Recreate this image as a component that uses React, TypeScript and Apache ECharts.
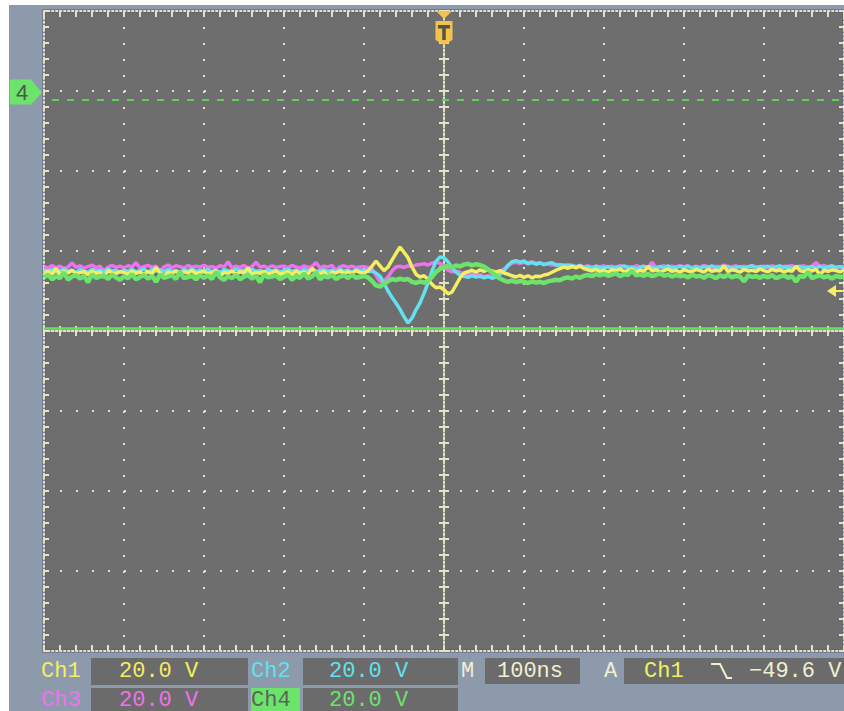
import React, { useEffect, useRef } from "react";
import * as echarts from "echarts";

// Acquisition record: one sample every 5 ns, -500 ns … +500 ns around the trigger
const SAMPLE_START_NS = -500;
const SAMPLE_STEP_NS = 5;

// Channel voltages (V, relative to each channel's ground), 201 samples each
const CH1_V = [
  -45.2, -44.6, -45.4, -43.9, -45.6, -44.7, -45.1, -44.4, -45.3, -45.0, -44.8, -45.5, -44.6, -45.2, -44.9, -46.2, -44.5, -45.1, -45.3, -44.7,
  -45.0, -45.4, -44.6, -45.2, -44.8, -45.5, -44.7, -45.3, -43.7, -45.1, -46.1, -44.9, -45.2, -44.6, -45.4, -44.8, -45.1, -44.5, -45.3, -45.0,
  -44.7, -45.3, -45.0, -44.5, -46.0, -44.9, -45.2, -44.6, -45.4, -44.8, -45.1, -43.8, -45.5, -44.9, -45.2, -44.7, -45.3, -45.0, -44.6, -45.4,
  -45.1, -44.8, -45.5, -44.6, -45.2, -44.9, -45.4, -43.9, -45.0, -45.3, -44.7, -46.0, -44.9, -45.1, -44.6, -45.3, -44.8, -45.2, -44.5, -45.0,
  -45.1, -44.6, -43.4, -42.1, -43.3, -44.5, -43.6, -41.9, -40.2, -38.6, -39.9, -41.3, -43.6, -45.4, -46.1, -45.8, -46.6, -47.9, -48.8, -48.6,
  -49.3, -50.3, -49.9, -48.1, -46.3, -45.1, -44.8, -44.4, -44.9, -44.3, -44.7, -44.2, -44.6, -44.9, -44.5, -45.1, -45.4, -45.8, -46.1, -45.7,
  -46.2, -45.8, -46.3, -45.9, -46.0, -45.6, -45.4, -44.9, -44.4, -44.0, -43.6, -43.9, -43.5, -43.8, -43.4, -44.0, -44.3, -44.6, -44.2, -44.7,
  -44.4, -44.9, -44.3, -44.6, -44.1, -44.8, -44.5, -44.2, -44.9, -44.4, -44.7, -43.4, -44.6, -44.3, -44.8, -44.5, -44.1, -44.7, -44.4, -44.9,
  -44.3, -44.6, -44.8, -44.2, -44.5, -44.9, -44.1, -44.7, -44.4, -44.6, -43.3, -44.8, -44.3, -44.5, -44.9, -44.2, -44.6, -44.4, -44.7, -44.1,
  -44.5, -44.8, -44.2, -44.6, -44.3, -44.9, -44.4, -44.7, -43.4, -44.5, -44.8, -44.3, -44.6, -44.2, -45.5, -44.4, -44.7, -44.3, -44.5, -44.8,
  -44.4,
];

const CH2_V = [
  -44.3, -44.8, -44.2, -44.9, -44.5, -44.1, -44.7, -44.4, -45.0, -44.3, -44.6, -44.9, -44.2, -44.7, -44.4, -44.8, -44.1, -44.6, -44.5, -44.9,
  -44.4, -44.7, -44.2, -44.8, -44.5, -44.1, -44.9, -44.3, -44.6, -44.4, -44.8, -44.2, -44.7, -44.5, -44.9, -44.3, -44.6, -44.1, -44.7, -44.4,
  -44.6, -44.2, -44.8, -44.4, -44.9, -44.3, -44.5, -44.7, -44.1, -44.6, -44.4, -44.8, -44.2, -44.7, -44.5, -44.9, -44.3, -44.6, -44.4, -44.8,
  -44.5, -44.2, -44.7, -44.4, -44.9, -44.3, -44.6, -44.1, -44.8, -44.5, -44.3, -44.7, -44.4, -44.9, -44.2, -44.6, -44.5, -44.8, -44.3, -44.6,
  -44.4, -44.7, -44.6, -45.1, -45.9, -47.6, -49.6, -51.2, -52.6, -54.2, -56.0, -57.6, -56.4, -54.3, -52.6, -50.2, -47.6, -44.6, -42.2, -41.1,
  -41.3, -42.3, -43.8, -44.9, -45.6, -45.9, -46.2, -45.8, -46.1, -45.9, -46.3, -46.0, -46.4, -46.1, -45.4, -44.6, -43.1, -42.3, -42.0, -42.4,
  -42.1, -42.8, -42.5, -42.9, -42.6, -43.0, -42.7, -42.5, -43.2, -43.0, -43.4, -43.1, -43.3, -43.6, -43.2, -43.8, -43.5, -43.9, -43.4, -43.7,
  -43.9, -43.5, -44.0, -43.6, -43.8, -43.3, -43.9, -43.6, -44.1, -43.7, -43.4, -43.9, -43.6, -44.0, -43.5, -43.8, -43.3, -43.9, -43.7, -43.5,
  -43.8, -43.4, -43.9, -43.6, -44.0, -43.5, -43.7, -43.3, -43.9, -43.6, -43.8, -43.4, -44.0, -43.7, -43.5, -43.9, -43.6, -43.3, -43.8, -43.5,
  -43.7, -43.4, -43.9, -43.6, -43.3, -43.8, -43.5, -44.0, -43.6, -43.4, -43.9, -43.7, -43.5, -43.8, -43.4, -43.9, -43.6, -43.3, -43.7, -43.5,
  -43.8,
];

const CH3_V = [
  -43.5, -43.9, -43.2, -43.8, -43.4, -44.0, -43.6, -42.6, -43.7, -43.3, -43.9, -43.5, -43.1, -43.8, -43.4, -44.6, -43.6, -43.2, -43.7, -43.4,
  -43.8, -43.3, -43.6, -42.5, -43.9, -43.5, -43.2, -43.7, -43.4, -44.6, -43.6, -43.1, -43.8, -43.3, -43.5, -43.9, -43.2, -43.7, -43.4, -43.6,
  -43.2, -43.7, -43.5, -43.9, -43.3, -43.6, -42.3, -43.8, -43.4, -43.7, -43.2, -43.9, -43.5, -42.4, -43.6, -43.4, -43.8, -43.3, -43.7, -43.5,
  -43.4, -43.8, -43.2, -43.6, -43.9, -43.3, -43.7, -43.5, -42.5, -43.8, -43.4, -43.6, -43.2, -44.5, -43.5, -43.3, -43.7, -43.4, -43.8, -43.6,
  -43.5, -43.8, -44.1, -45.6, -47.3, -47.1, -46.1, -44.6, -43.6, -43.4, -43.7, -43.3, -43.5, -43.1, -43.0, -42.8, -43.1, -42.6, -42.4, -42.7,
  -43.3, -44.4, -44.8, -44.6, -44.9, -45.4, -45.6, -45.3, -45.7, -45.5, -46.0, -45.8, -46.1, -45.2, -44.8, -44.1, -43.4, -42.6, -42.4, -42.7,
  -42.4, -42.6, -42.3, -42.7, -42.5, -43.0, -42.8, -43.1, -42.9, -43.2, -43.0, -43.4, -43.1, -43.5, -43.2, -43.6, -43.3, -43.7, -43.4, -43.6,
  -43.3, -43.7, -43.4, -43.8, -43.2, -43.6, -43.5, -43.9, -43.3, -43.6, -43.4, -43.8, -42.4, -43.7, -43.5, -43.3, -43.8, -43.4, -43.6, -43.2,
  -43.6, -43.3, -43.8, -43.4, -43.7, -43.2, -43.5, -44.5, -43.4, -43.6, -43.1, -43.7, -43.5, -43.3, -43.8, -43.4, -43.6, -43.2, -43.7, -43.5,
  -43.4, -43.7, -43.3, -43.6, -44.6, -43.4, -43.5, -43.2, -43.8, -43.6, -43.3, -43.7, -43.4, -42.5, -43.5, -43.2, -43.6, -43.4, -43.8, -43.5,
  -43.6,
];

const CH4_V = [
  -46.2, -45.5, -46.7, -45.9, -46.4, -44.9, -46.8, -46.0, -45.6, -46.5, -45.8, -47.4, -45.4, -46.3, -46.0, -45.7, -46.6, -45.5, -46.2, -46.8,
  -45.9, -46.4, -45.4, -46.7, -46.1, -45.6, -46.5, -45.8, -47.3, -45.5, -46.3, -46.0, -45.7, -46.6, -44.8, -46.4, -46.1, -45.8, -46.7, -45.6,
  -46.3, -45.7, -46.6, -44.8, -46.2, -46.8, -45.9, -46.4, -45.5, -46.7, -46.0, -45.6, -46.5, -45.8, -47.4, -45.4, -46.2, -46.0, -45.7, -46.6,
  -46.1, -45.5, -46.8, -45.9, -46.3, -45.2, -46.5, -46.0, -44.9, -46.7, -45.8, -46.2, -45.6, -46.6, -46.0, -45.7, -46.4, -45.5, -46.3, -46.1,
  -45.8, -46.2, -47.1, -48.2, -48.5, -47.8, -47.2, -46.6, -46.9, -46.5, -46.8, -46.6, -47.3, -47.6, -47.2, -47.5, -47.1, -46.1, -44.8, -44.1,
  -43.6, -43.3, -43.7, -43.2, -43.5, -43.0, -42.8, -43.2, -42.9, -43.1, -43.5, -44.2, -45.0, -45.8, -46.5, -47.0, -47.3, -47.0, -47.4, -47.1,
  -47.3, -47.6, -47.2, -47.5, -47.3, -47.6, -47.2, -47.0, -46.8, -46.9, -46.4, -46.2, -46.5, -46.0, -46.3, -45.8, -45.6, -45.9, -45.4, -45.7,
  -45.3, -45.8, -45.5, -45.2, -45.9, -45.4, -45.6, -44.5, -45.7, -45.5, -45.8, -45.3, -45.9, -45.6, -45.2, -45.8, -45.5, -46.0, -45.6, -45.9,
  -45.7, -46.2, -45.5, -46.0, -45.8, -46.3, -45.6, -45.9, -46.4, -45.7, -46.1, -45.5, -46.2, -45.8, -46.0, -47.2, -45.7, -46.1, -45.9, -46.3,
  -45.8, -46.2, -45.6, -46.4, -46.0, -45.7, -46.3, -45.9, -47.3, -45.8, -46.1, -44.8, -46.4, -46.0, -45.7, -46.2, -45.9, -46.5, -45.8, -46.1,
  -46.0,
];

// Front-panel settings
const CHANNEL_NAMES = ["Ch1", "Ch2", "Ch3", "Ch4"];
const CHANNEL_SCALE_LABELS = ["20.0 V", "20.0 V", "20.0 V", "20.0 V"];
const VOLTS_PER_DIV = 20;
const NS_PER_DIV = 100;
const TIMEBASE_LABEL = "100ns";
const H_DIVS = 10;
const V_DIVS = 8;
const GROUND_DIV = 2.98; // ground reference, divisions above screen centre
const TRIGGER_SOURCE = "Ch1";
const TRIGGER_LEVEL_V = -49.6;
const TRIGGER_TIME_NS = 0;
const CH4_CURSOR_V = -1.85;
const CH4_REF_V = -58.85;

const COLORS = ["#f3ee62", "#62e2ee", "#ee72ee", "#6ce46c"];
const TRACE_WIDTHS = [3.5, 3.5, 3.5, 4.5];
const CREAM = "#e4e2c0";
const TEXT_CREAM = "#f1efd2";
const PLOT_BG = "#6e6e6e";
const BOX_BG = "#6b6b6b";
const FONT = '22px "Liberation Mono", "DejaVu Sans Mono", monospace';

const GROUND_OFFSET = GROUND_DIV * VOLTS_PER_DIV;
const X_HALF = (H_DIVS / 2) * NS_PER_DIV;
const Y_HALF = (V_DIVS / 2) * VOLTS_PER_DIV;

const toPoints = (volts: number[]) =>
  volts.map((v, i) => [SAMPLE_START_NS + i * SAMPLE_STEP_NS, v + GROUND_OFFSET]);

const tick = (len: number) => ({ show: true, inside: true, length: len, lineStyle: { color: CREAM, width: 2 } });
const minor = (len: number) => ({ show: true, splitNumber: 5, length: len, lineStyle: { color: CREAM, width: 2 } });
const dotted = { color: CREAM, width: 2, type: [1.5, 2.5] as number[] };

function axis(kind: "x" | "y", position: string, onZero: boolean, showGrid: boolean, tickLen: number) {
  const half = kind === "x" ? X_HALF : Y_HALF;
  const step = kind === "x" ? NS_PER_DIV : VOLTS_PER_DIV;
  return {
    type: "value",
    min: -half,
    max: half,
    interval: step,
    position,
    axisLabel: { show: false },
    axisLine: onZero
      ? { show: true, onZero: true, onZeroAxisIndex: 0, lineStyle: dotted }
      : { show: true, onZero: false, lineStyle: dotted },
    axisTick: tick(tickLen),
    minorTick: minor(tickLen),
    splitLine: showGrid
      ? { show: true, lineStyle: { color: CREAM, width: 2, type: [2, 14] } }
      : { show: false },
    minorSplitLine: { show: false },
  };
}

function txt(text: string, x: number, y: number, fill: string, extra: any = {}) {
  return {
    type: "text",
    x,
    y,
    z: 50,
    silent: true,
    style: {
      text,
      fill,
      font: FONT,
      textAlign: "left",
      textVerticalAlign: "middle",
      align: "left",
      verticalAlign: "middle",
      ...extra,
    },
  };
}

function box(x: number, y: number, w: number, h: number, fill = BOX_BG) {
  return { type: "rect", z: 40, silent: true, shape: { x, y, width: w, height: h }, style: { fill } };
}

export default function App() {
  const ref = useRef<HTMLDivElement>(null);

  useEffect(() => {
    if (!ref.current) return;
    const chart = echarts.init(ref.current, null, { renderer: "svg" });
    const traces = [CH1_V, CH2_V, CH3_V, CH4_V];
    const drawOrder = [2, 1, 0, 3];

    chart.setOption({
      animation: false,
      grid: {
        left: 44,
        top: 11,
        width: 800,
        height: 640,
        show: true,
        backgroundColor: PLOT_BG,
        borderColor: "#5b5c76",
        borderWidth: 3,
      },
      xAxis: [
        axis("x", "bottom", false, true, 6),
        axis("x", "top", false, false, 6),
        axis("x", "bottom", true, false, 5),
        axis("x", "top", true, false, 5),
      ],
      yAxis: [
        axis("y", "left", false, true, 5),
        axis("y", "right", false, false, 5),
        axis("y", "left", true, false, 5),
        axis("y", "right", true, false, 5),
      ],
      series: drawOrder.map((ch) => ({
        name: CHANNEL_NAMES[ch],
        type: "line",
        xAxisIndex: 0,
        yAxisIndex: 0,
        data: toPoints(traces[ch]),
        showSymbol: false,
        silent: true,
        z: 5,
        lineStyle: { color: COLORS[ch], width: TRACE_WIDTHS[ch], join: "bevel" },
        markLine:
          ch === 3
            ? {
                silent: true,
                symbol: "none",
                label: { show: false },
                data: [
                  {
                    yAxis: CH4_CURSOR_V + GROUND_OFFSET,
                    lineStyle: { color: "#5cd25c", width: 2, type: [7, 8], dashOffset: 7 },
                  },
                  {
                    yAxis: CH4_REF_V + GROUND_OFFSET,
                    lineStyle: { color: "#64e064", width: 2.5, type: "solid" },
                  },
                ],
              }
            : undefined,
      })),
    });

    const gY = chart.convertToPixel({ yAxisIndex: 0 }, GROUND_OFFSET) as number;
    const tX = chart.convertToPixel({ xAxisIndex: 0 }, TRIGGER_TIME_NS) as number;
    const lvY = chart.convertToPixel({ yAxisIndex: 0 }, TRIGGER_LEVEL_V + GROUND_OFFSET) as number;
    const amber = "#f2c34c";
    const levelText = `\u2212${Math.abs(TRIGGER_LEVEL_V).toFixed(1)} V`;

    const graphic: any[] = [
      // Ch4 ground marker
      {
        type: "polygon",
        z: 60,
        silent: true,
        shape: { points: [[10, gY - 13], [31, gY - 13], [42, gY], [31, gY + 12], [10, gY + 12]] },
        style: { fill: COLORS[3] },
      },
      {
        type: "text",
        x: 22,
        y: gY,
        z: 61,
        silent: true,
        style: {
          text: "4",
          fill: "#4f564f",
          font: '22px "Liberation Sans", sans-serif',
          textAlign: "center",
          textVerticalAlign: "middle",
          align: "center",
          verticalAlign: "middle",
        },
      },
      // trigger position marker
      {
        type: "polygon",
        z: 60,
        silent: true,
        shape: { points: [[tX - 8, 11], [tX + 8, 11], [tX, 19]] },
        style: { fill: amber },
      },
      {
        type: "polygon",
        z: 60,
        silent: true,
        shape: { points: [[tX - 8.5, 21], [tX + 8.5, 21], [tX + 8.5, 40], [tX, 45], [tX - 8.5, 40]] },
        style: { fill: amber },
      },
      { type: "rect", z: 61, silent: true, shape: { x: tX - 6, y: 25, width: 12, height: 3.5 }, style: { fill: "#56533f" } },
      { type: "rect", z: 61, silent: true, shape: { x: tX - 1.75, y: 25, width: 3.5, height: 15 }, style: { fill: "#56533f" } },
      // trigger level marker
      {
        type: "polygon",
        z: 60,
        silent: true,
        shape: { points: [[827, lvY], [836, lvY - 6], [836, lvY + 6]] },
        style: { fill: COLORS[0] },
      },
      {
        type: "line",
        z: 60,
        silent: true,
        shape: { x1: 835, y1: lvY, x2: 844, y2: lvY },
        style: { stroke: COLORS[0], lineWidth: 2 },
      },
      // readout boxes
      box(91, 658, 157, 27),
      box(303, 658, 155, 27),
      box(485, 658, 95, 26),
      box(624, 658, 220, 26),
      box(91, 688, 157, 23),
      box(303, 688, 155, 23),
      box(251, 688, 49, 23, COLORS[3]),
      // row 1
      txt(CHANNEL_NAMES[0], 41, 671, COLORS[0]),
      txt(CHANNEL_SCALE_LABELS[0], 119, 671, COLORS[0]),
      txt(CHANNEL_NAMES[1], 251, 671, COLORS[1]),
      txt(CHANNEL_SCALE_LABELS[1], 329, 671, COLORS[1]),
      txt("M", 461, 671, TEXT_CREAM),
      txt(TIMEBASE_LABEL, 497, 671, TEXT_CREAM),
      txt("A", 604, 671, TEXT_CREAM),
      txt(TRIGGER_SOURCE, 644, 671, COLORS[0]),
      {
        type: "polyline",
        z: 50,
        silent: true,
        shape: { points: [[711, 664], [720, 664], [727, 678], [732, 678]] },
        style: { stroke: TEXT_CREAM, lineWidth: 2, fill: null },
      },
      txt(levelText, 749, 671, TEXT_CREAM),
      // row 2
      txt(CHANNEL_NAMES[2], 41, 700, COLORS[2]),
      txt(CHANNEL_SCALE_LABELS[2], 119, 700, COLORS[2]),
      txt(CHANNEL_NAMES[3], 251, 700, "#5b645b"),
      txt(CHANNEL_SCALE_LABELS[3], 329, 700, COLORS[3]),
    ];

    chart.setOption({ graphic });

    return () => chart.dispose();
  }, []);

  return (
    <div style={{ position: "absolute", left: 0, top: 0, width: 844, height: 711, background: "#ffffff", overflow: "hidden" }}>
      <div style={{ position: "absolute", left: 9, top: 5, width: 835, height: 706, background: "#8c9aac" }} />
      <div ref={ref} style={{ position: "absolute", left: 0, top: 0, width: 844, height: 711 }} />
    </div>
  );
}
